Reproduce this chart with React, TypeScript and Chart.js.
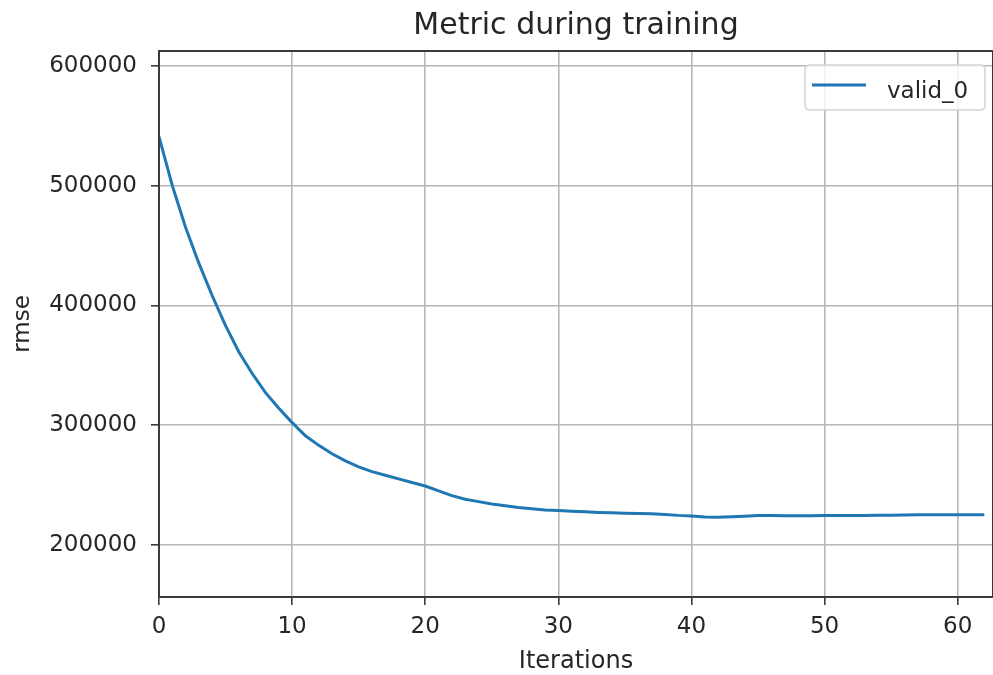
import React, { useEffect, useRef } from "react";
import { Chart, registerables } from "chart.js";

Chart.register(...registerables);

const TITLE = "Metric during training";
const X_LABEL = "Iterations";
const Y_LABEL = "rmse";
const SERIES_NAME = "valid_0";

// rmse value per boosting iteration (0..62)
const rmse: number[] = [
  541000, 500000, 465000, 435000, 408000, 383000, 361000, 343000, 327000, 314000,
  302000, 291000, 283000, 276000, 270000, 265000, 261000, 258000, 255000, 252000,
  249000, 245000, 241000, 238000, 236000, 234000, 232500, 231000, 230000, 229000,
  228500, 228000, 227500, 227000, 226600, 226300, 226000, 225800, 225300, 224500,
  224000, 223200, 223000, 223300, 223800, 224300, 224300, 224200, 224200, 224200,
  224300, 224300, 224400, 224500, 224600, 224700, 224900, 225000, 225000, 225000,
  225100, 225100, 225100,
];

const X_TICKS = [0, 10, 20, 30, 40, 50, 60];
const Y_TICKS = [200000, 300000, 400000, 500000, 600000];
const X_MIN = 0;
const X_MAX = 62.65;
const Y_MIN = 156300;
const Y_MAX = 612500;

const LINE_COLOR = "#1f77b4";
const TEXT_COLOR = "#262626";
const GRID_COLOR = "#b8b8b8";
const SPINE_COLOR = "#3a3a3a";
const FONT = "'DejaVu Sans', sans-serif";

const framePlugin = {
  id: "frameAndLegend",
  afterDraw(chart: any) {
    const { ctx, chartArea } = chart;
    const { left, top, right, bottom } = chartArea;
    ctx.save();
    // spines
    ctx.strokeStyle = SPINE_COLOR;
    ctx.lineWidth = 2;
    ctx.strokeRect(left, top, right - left, bottom - top);

    // legend box (matplotlib style, upper right)
    const bx = right - 188;
    const by = top + 14;
    const bw = 180;
    const bh = 45;
    ctx.beginPath();
    const r = 5;
    ctx.moveTo(bx + r, by);
    ctx.lineTo(bx + bw - r, by);
    ctx.quadraticCurveTo(bx + bw, by, bx + bw, by + r);
    ctx.lineTo(bx + bw, by + bh - r);
    ctx.quadraticCurveTo(bx + bw, by + bh, bx + bw - r, by + bh);
    ctx.lineTo(bx + r, by + bh);
    ctx.quadraticCurveTo(bx, by + bh, bx, by + bh - r);
    ctx.lineTo(bx, by + r);
    ctx.quadraticCurveTo(bx, by, bx + r, by);
    ctx.closePath();
    ctx.fillStyle = "rgba(255,255,255,0.8)";
    ctx.fill();
    ctx.strokeStyle = "#d4d4d4";
    ctx.lineWidth = 1.5;
    ctx.stroke();

    ctx.beginPath();
    ctx.moveTo(bx + 7, by + 20);
    ctx.lineTo(bx + 61, by + 20);
    ctx.strokeStyle = LINE_COLOR;
    ctx.lineWidth = 3;
    ctx.stroke();

    ctx.fillStyle = TEXT_COLOR;
    ctx.font = `23px ${FONT}`;
    ctx.textAlign = "left";
    ctx.textBaseline = "alphabetic";
    ctx.fillText(SERIES_NAME, bx + 82, by + 33);
    ctx.restore();
  },
};

export default function App() {
  const canvasRef = useRef<HTMLCanvasElement | null>(null);

  useEffect(() => {
    const canvas = canvasRef.current;
    if (!canvas) return;
    const chart = new Chart(canvas, {
      type: "line",
      data: {
        datasets: [
          {
            label: SERIES_NAME,
            data: rmse.map((v, i) => ({ x: i, y: v })),
            borderColor: LINE_COLOR,
            backgroundColor: LINE_COLOR,
            borderWidth: 3,
            pointRadius: 0,
            tension: 0,
            fill: false,
          },
        ],
      },
      options: {
        responsive: false,
        animation: false,
        layout: { padding: { left: 0, right: 0, top: 0, bottom: 0 } },
        plugins: {
          legend: { display: false },
          tooltip: { enabled: false },
          title: {
            display: true,
            text: TITLE,
            fullSize: false,
            color: TEXT_COLOR,
            font: { family: FONT, size: 30, weight: "normal", lineHeight: 1.2 },
            padding: { top: 8.5, bottom: 6.5 },
          },
        },
        scales: {
          x: {
            type: "linear",
            min: X_MIN,
            max: X_MAX,
            border: { display: false },
            grid: {
              color: GRID_COLOR,
              lineWidth: 1.6,
              drawTicks: true,
              tickLength: 8,
              tickColor: SPINE_COLOR,
              tickWidth: 1.6,
            },
            ticks: {
              color: TEXT_COLOR,
              padding: 8,
              maxRotation: 0,
              autoSkip: false,
              font: { family: FONT, size: 23, lineHeight: 1.2 },
              callback: (v: any) => String(v),
            },
            afterBuildTicks: (scale: any) => {
              scale.ticks = X_TICKS.map((v) => ({ value: v }));
            },
            title: {
              display: true,
              text: X_LABEL,
              color: TEXT_COLOR,
              font: { family: FONT, size: 24, lineHeight: 1.13 },
              padding: { top: 0, bottom: 0 },
            },
            afterFit: (scale: any) => {
              scale.height = 78;
            },
          },
          y: {
            type: "linear",
            min: Y_MIN,
            max: Y_MAX,
            border: { display: false },
            grid: {
              color: GRID_COLOR,
              lineWidth: 1.6,
              drawTicks: true,
              tickLength: 8,
              tickColor: SPINE_COLOR,
              tickWidth: 1.6,
            },
            ticks: {
              color: TEXT_COLOR,
              padding: 14,
              autoSkip: false,
              font: { family: FONT, size: 23, lineHeight: 1.2 },
              callback: (v: any) => String(v),
            },
            afterBuildTicks: (scale: any) => {
              scale.ticks = Y_TICKS.map((v) => ({ value: v }));
            },
            title: {
              display: true,
              text: Y_LABEL,
              color: TEXT_COLOR,
              font: { family: FONT, size: 23, lineHeight: 1.2 },
              padding: { top: 9, bottom: 0 },
            },
            afterFit: (scale: any) => {
              scale.width = 159;
            },
          },
        },
      },
      plugins: [framePlugin],
    } as any);
    return () => chart.destroy();
  }, []);

  return (
    <div style={{ position: "fixed", left: 0, top: 0, width: 993, height: 675, background: "#fff" }}>
      <canvas ref={canvasRef} width={993} height={675} style={{ display: "block" }} />
    </div>
  );
}
